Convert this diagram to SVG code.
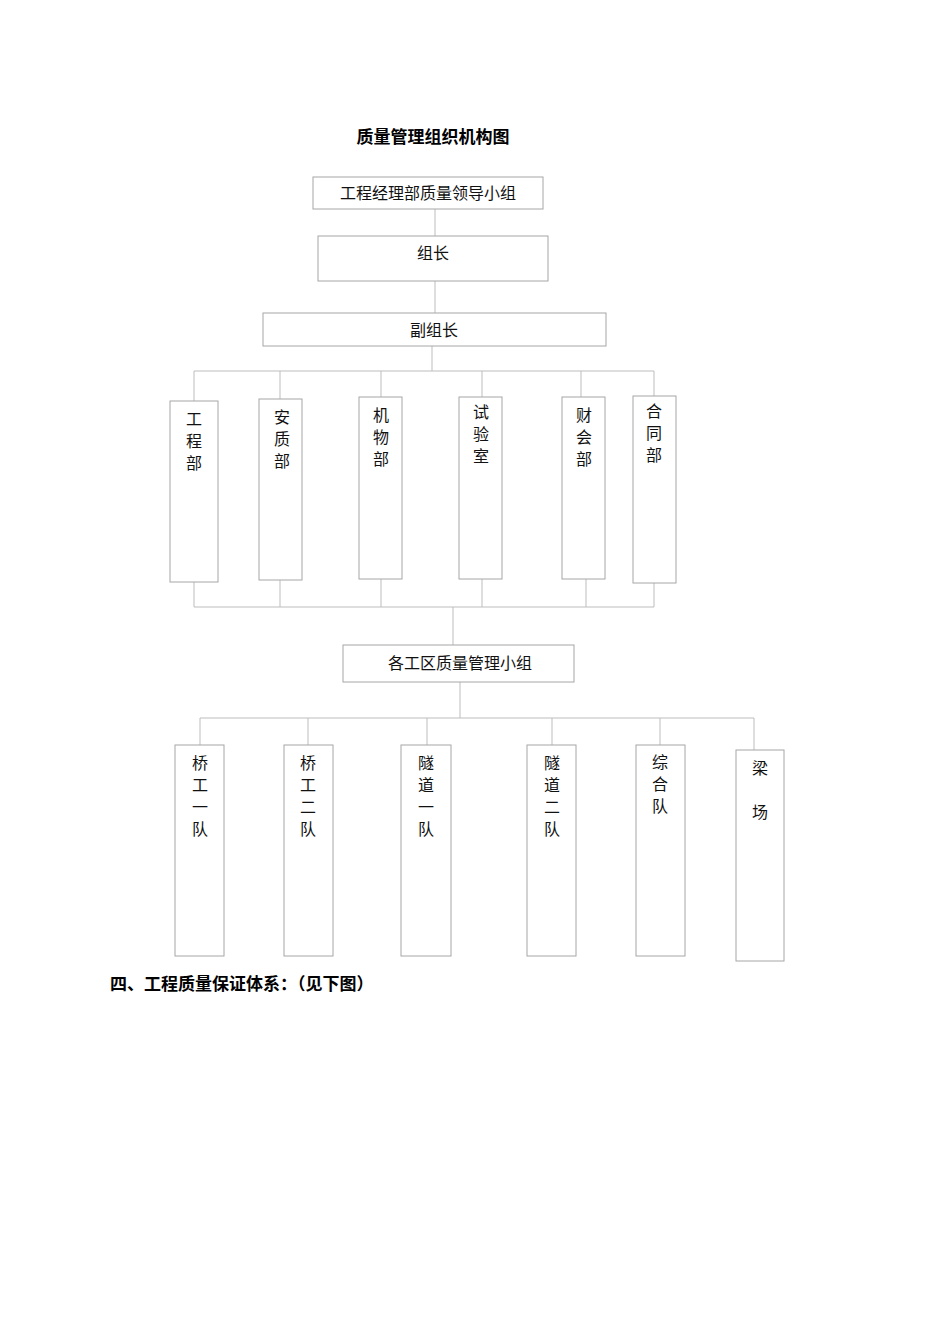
<svg xmlns="http://www.w3.org/2000/svg" width="950" height="1344" viewBox="0 0 950 1344">
<style>
.b{fill:#fff;stroke:#a6a6a6;stroke-width:1}
.l{stroke:#bdbdbd;stroke-width:1;fill:none}
.t{font-family:"Liberation Serif","Noto Sans CJK SC",serif;font-size:16px;fill:#111;text-anchor:middle}
.h{font-family:"Noto Sans CJK SC",sans-serif;font-size:17px;font-weight:bold;fill:#000}
</style>
<rect width="950" height="1344" fill="#fff"/>
<text class="h" x="433" y="143" text-anchor="middle">质量管理组织机构图</text>
<g id="connectors" class="l">
<path d="M435 209V236M435 281V313M432 346V371M194 371H654M194 371V401M280 371V399M381 371V397M482 371V397M581 371V397M654 371V396"/>
<path d="M194 582V607M280 580V607M381 579V607M482 579V607M586 579V607M654 583V607M194 607H654M453 607V645"/>
<path d="M460 682V718M200 718H754M200 718V745M308 718V745M427 718V745M552 718V745M660 718V745M754 718V750"/>
</g>
<g id="n1"><rect class="b" x="313" y="177" width="230" height="32"/><text class="t" x="428" y="199">工程经理部质量领导小组</text></g>
<g id="n2"><rect class="b" x="318" y="236" width="230" height="45"/><text class="t" x="433" y="259">组长</text></g>
<g id="n3"><rect class="b" x="263" y="313" width="343" height="33"/><text class="t" x="434" y="336">副组长</text></g>
<g id="d1"><rect class="b" x="170" y="401" width="48" height="181"/><text class="t" x="194" y="425">工</text><text class="t" x="194" y="447">程</text><text class="t" x="194" y="469">部</text></g>
<g id="d2"><rect class="b" x="259" y="399" width="43" height="181"/><text class="t" x="282" y="423">安</text><text class="t" x="282" y="445">质</text><text class="t" x="282" y="467">部</text></g>
<g id="d3"><rect class="b" x="359" y="397" width="43" height="182"/><text class="t" x="381" y="421">机</text><text class="t" x="381" y="443">物</text><text class="t" x="381" y="465">部</text></g>
<g id="d4"><rect class="b" x="459" y="397" width="43" height="182"/><text class="t" x="481" y="418">试</text><text class="t" x="481" y="440">验</text><text class="t" x="481" y="462">室</text></g>
<g id="d5"><rect class="b" x="562" y="397" width="43" height="182"/><text class="t" x="584" y="421">财</text><text class="t" x="584" y="443">会</text><text class="t" x="584" y="465">部</text></g>
<g id="d6"><rect class="b" x="633" y="396" width="43" height="187"/><text class="t" x="654" y="417">合</text><text class="t" x="654" y="439">同</text><text class="t" x="654" y="461">部</text></g>
<g id="n4"><rect class="b" x="343" y="645" width="231" height="37"/><text class="t" x="460" y="669">各工区质量管理小组</text></g>
<g id="t1"><rect class="b" x="175" y="745" width="49" height="211"/><text class="t" x="200" y="769">桥</text><text class="t" x="200" y="791">工</text><text class="t" x="200" y="813">一</text><text class="t" x="200" y="835">队</text></g>
<g id="t2"><rect class="b" x="284" y="745" width="49" height="211"/><text class="t" x="308" y="769">桥</text><text class="t" x="308" y="791">工</text><text class="t" x="308" y="813">二</text><text class="t" x="308" y="835">队</text></g>
<g id="t3"><rect class="b" x="401" y="745" width="50" height="211"/><text class="t" x="426" y="769">隧</text><text class="t" x="426" y="791">道</text><text class="t" x="426" y="813">一</text><text class="t" x="426" y="835">队</text></g>
<g id="t4"><rect class="b" x="527" y="745" width="49" height="211"/><text class="t" x="552" y="769">隧</text><text class="t" x="552" y="791">道</text><text class="t" x="552" y="813">二</text><text class="t" x="552" y="835">队</text></g>
<g id="t5"><rect class="b" x="636" y="745" width="49" height="211"/><text class="t" x="660" y="768">综</text><text class="t" x="660" y="790">合</text><text class="t" x="660" y="812">队</text></g>
<g id="t6"><rect class="b" x="736" y="750" width="48" height="211"/><text class="t" x="760" y="774">梁</text><text class="t" x="760" y="818">场</text></g>
<text class="h" x="110" y="990">四、工程质量保证体系：（见下图）</text>
</svg>
